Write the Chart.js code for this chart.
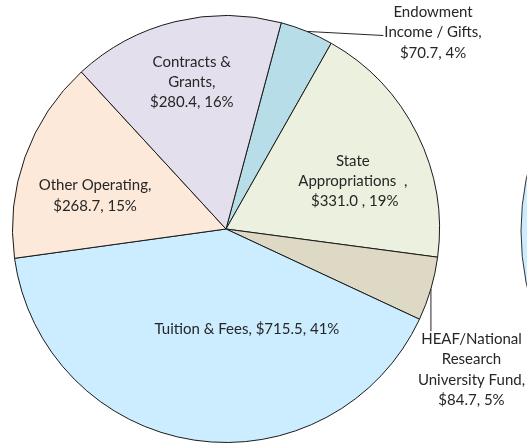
<!DOCTYPE html>
<html>
<head>
<meta charset="utf-8">
<script src="https://cdn.jsdelivr.net/npm/chart.js@4/dist/chart.umd.min.js"></script>
<style>
    body { margin: 0; background: #ffffff; }
    #wrap { position: relative; width: 527px; height: 443px; overflow: hidden; }
</style>
</head>
<body>
<div id="wrap"><canvas id="revenue-chart" width="527" height="443"></canvas></div>
<script>
/* ============================================= */
/*                    Data                       */
/* ============================================= */

// slices listed clockwise, starting from the one right of 12 o'clock
const categories = [
    'Endowment Income / Gifts',
    'State Appropriations',
    'HEAF/National Research University Fund',
    'Tuition & Fees',
    'Other Operating',
    'Contracts & Grants'
];
const amounts = [70.7, 331.0, 84.7, 715.5, 268.7, 280.4];
const sliceLabels = [
    ['Endowment', 'Income / Gifts,', '$70.7, 4%'],
    ['State', 'Appropriations  ,', ' $331.0 , 19%'],
    ['HEAF/National', 'Research', 'University Fund,', '$84.7, 5%'],
    ['Tuition & Fees, $715.5, 41%'],
    ['Other Operating,', '$268.7, 15%'],
    ['Contracts &', 'Grants,', '$280.4, 16%']
];
const sliceColors = ['#B7DEE8', '#EBF1DE', '#DDD9C4', '#CCECFF', '#FDE9D9', '#E4DFEC'];

/* ============================================= */
/*               Label placement                 */
/* ============================================= */

// polar spot of each label block: degrees clockwise from 12 o'clock, share of radius
const labelSpots = [
    { angle: 46.5, dist: 1.337, outside: true },
    { angle: 69.3, dist: 0.635 },
    { angle: 119.8, dist: 1.325, outside: true },
    { angle: 168.2, dist: 0.48 },
    { angle: 284.3, dist: 0.633 },
    { angle: 346.9, dist: 0.707 }
];

const labelFont = '15px Lato';
const lineHeight = 20.2;

const sliceLabelPlugin = {
    id: 'sliceLabels',
    afterDatasetsDraw(chart) {
        const ctx = chart.ctx;
        const meta = chart.getDatasetMeta(0);
        ctx.save();
        ctx.font = labelFont;
        ctx.fillStyle = '#262626';
        ctx.textAlign = 'center';
        ctx.textBaseline = 'middle';
        meta.data.forEach((arc, i) => {
            const spot = labelSpots[i];
            const lines = sliceLabels[i];
            const r = arc.outerRadius;
            const a = (spot.angle - 90) * Math.PI / 180;
            const cx = arc.x + Math.cos(a) * r * spot.dist;
            const cy = arc.y + Math.sin(a) * r * spot.dist;
            const top = cy - lines.length * lineHeight / 2;

            if (spot.outside) {
                // leader line from the middle of the slice edge
                const mid = (arc.startAngle + arc.endAngle) / 2;
                const ex = arc.x + Math.cos(mid) * r;
                const ey = arc.y + Math.sin(mid) * r;
                const boxW = Math.max(...lines.map(t => ctx.measureText(t).width));
                const left = cx - boxW / 2;
                const right = cx + boxW / 2;
                let tx, ty;
                if (ex >= left && ex <= right) {
                    tx = ex;
                    ty = top + 2;
                } else {
                    tx = left - 1;
                    ty = cy + 3;
                }
                ctx.beginPath();
                ctx.moveTo(ex, ey);
                ctx.lineTo(tx, ty);
                ctx.strokeStyle = '#262626';
                ctx.lineWidth = 1;
                ctx.stroke();
            }

            lines.forEach((t, k) => {
                ctx.fillText(t, cx, top + lineHeight * (k + 0.5));
            });
        });
        ctx.restore();
    }
};

// edge of the neighbouring chart that is cut off on the right
const neighbourPlugin = {
    id: 'neighbour',
    beforeDraw(chart) {
        const ctx = chart.ctx;
        const meta = chart.getDatasetMeta(0);
        const arc = meta.data[0];
        if (!arc) return;
        const R = 262;
        ctx.save();
        ctx.beginPath();
        ctx.arc(chart.width - 6 + R, arc.y + 2, R, 0, Math.PI * 2);
        ctx.fillStyle = '#CCECFF';
        ctx.fill();
        ctx.strokeStyle = '#333333';
        ctx.lineWidth = 1;
        ctx.stroke();
        ctx.restore();
    }
};

/* ============================================= */
/*                  Pie Chart                    */
/* ============================================= */

const revenueCanvas = document.getElementById('revenue-chart');

const revenueData = {
    labels: categories,
    datasets: [{
        data: amounts,
        backgroundColor: sliceColors,
        borderColor: '#1a1a1a',
        borderWidth: 1
    }]
};

const revenueOptions = {
    responsive: false,
    animation: false,
    rotation: 15,
    layout: {
        padding: { left: 12, right: 87, top: 15, bottom: 0 }
    },
    plugins: {
        legend: { display: false },
        tooltip: { enabled: false }
    }
};

let revenueChart = new Chart(revenueCanvas, {
    type: 'pie',
    data: revenueData,
    options: revenueOptions,
    plugins: [neighbourPlugin, sliceLabelPlugin]
});
</script>
</body>
</html>
